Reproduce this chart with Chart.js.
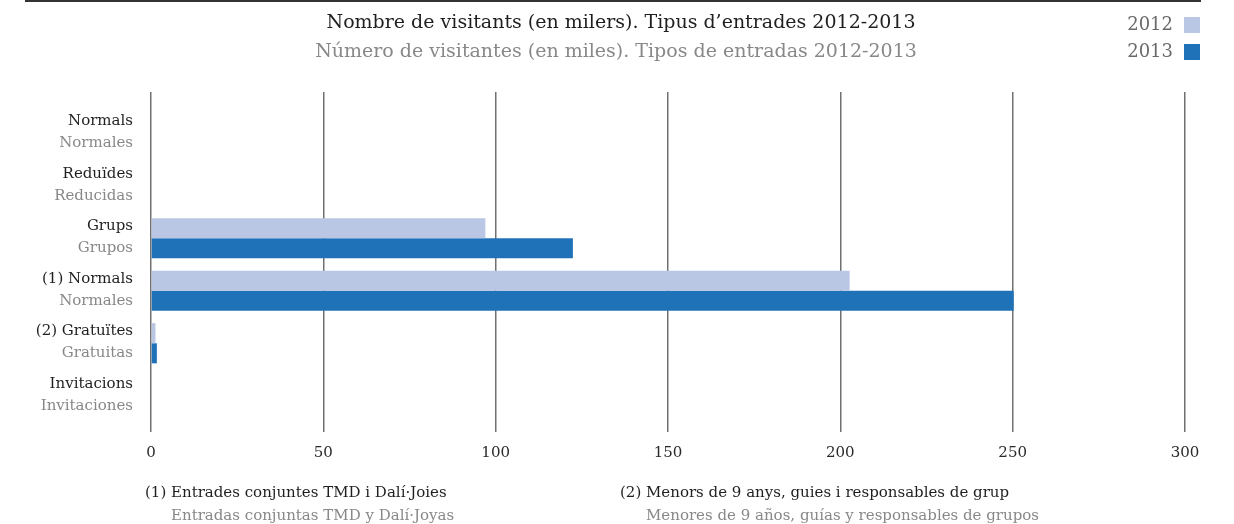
<!DOCTYPE html>
<html>
<head>
<meta charset="utf-8">
<script src="https://cdn.jsdelivr.net/npm/chart.js@4/dist/chart.umd.min.js"></script>
<style>
  html, body { margin: 0; padding: 0; background: #fff; }
</style>
</head>
<body>
<canvas id="chart" width="1234" height="524"></canvas>
<script>
  // data (thousands of visitors)
  const categoriesCa = ['Normals', 'Reduïdes', 'Grups', '(1) Normals', '(2) Gratuïtes', 'Invitacions'];
  const categoriesEs = ['Normales', 'Reducidas', 'Grupos', 'Normales', 'Gratuitas', 'Invitaciones'];
  const seriesNames = ['2012', '2013'];
  const values2012 = [null, null, 97, 202.7, 1.3, null];
  const values2013 = [null, null, 122.4, 250.3, 1.7, null];
  const xTicks = [0, 50, 100, 150, 200, 250, 300];

  const titleCa = 'Nombre de visitants (en milers). Tipus d\u2019entrades 2012-2013';
  const titleEs = 'Número de visitantes (en miles). Tipos de entradas 2012-2013';
  const notesCa = ['(1) Entrades conjuntes TMD i Dalí·Joies', '(2) Menors de 9 anys, guies i responsables de grup'];
  const notesEs = ['Entradas conjuntas TMD y Dalí·Joyas', 'Menores de 9 años, guías y responsables de grupos'];

  const FONT = '"DejaVu Serif", serif';
  const DARK = '#1f1f1f';
  const GREY = '#888888';
  const GRID = '#707070';

  // titles, legend, two-colour category labels, footnotes
  const decor = {
    id: 'decor',
    afterDraw(chart) {
      const ctx = chart.ctx;
      const y = chart.scales.y;
      ctx.save();

      // rule at the very top
      ctx.strokeStyle = '#333';
      ctx.lineWidth = 2;
      ctx.beginPath();
      ctx.moveTo(25, 1);
      ctx.lineTo(1201, 1);
      ctx.stroke();

      // title
      ctx.textAlign = 'center';
      ctx.textBaseline = 'middle';
      ctx.font = '19px ' + FONT;
      ctx.fillStyle = DARK;
      ctx.fillText(titleCa, 621, 23);
      ctx.fillStyle = GREY;
      ctx.fillText(titleEs, 616, 52);

      // legend
      ctx.font = '18px ' + FONT;
      ctx.textAlign = 'right';
      chart.data.datasets.forEach((ds, i) => {
        const cy = 25 + i * 27;
        ctx.fillStyle = '#6a6a6a';
        ctx.fillText(ds.label, 1173, cy);
        ctx.fillStyle = ds.backgroundColor;
        ctx.fillRect(1184, cy - 8, 16, 16);
      });

      // category labels
      ctx.font = '15px ' + FONT;
      ctx.textAlign = 'right';
      categoriesCa.forEach((lab, i) => {
        const cy = y.getPixelForValue(i);
        ctx.fillStyle = DARK;
        ctx.fillText(lab, 133, cy - 12);
        ctx.fillStyle = GREY;
        ctx.fillText(categoriesEs[i], 133, cy + 10);
      });

      // footnotes
      ctx.textAlign = 'left';
      const noteX = [145, 620];
      notesCa.forEach((n, i) => {
        const indent = ctx.measureText(n.slice(0, 4)).width;
        ctx.fillStyle = DARK;
        ctx.fillText(n, noteX[i], 493);
        ctx.fillStyle = GREY;
        ctx.fillText(notesEs[i], noteX[i] + indent, 516);
      });

      ctx.restore();
    }
  };

  const xTickOpts = (showLabels, len) => ({
    type: 'linear',
    axis: 'x',
    min: xTicks[0],
    max: xTicks[xTicks.length - 1],
    afterBuildTicks: (s) => { s.ticks = xTicks.map(v => ({ value: v })); },
    border: { display: false },
    ticks: {
      display: showLabels,
      color: '#2a2a2a',
      padding: 12,
      font: { family: FONT, size: 15 }
    },
    grid: {
      color: GRID,
      lineWidth: 1.5,
      tickLength: len,
      tickColor: GRID,
      drawOnChartArea: showLabels
    }
  });

  new Chart(document.getElementById('chart'), {
    type: 'bar',
    data: {
      labels: categoriesCa,
      datasets: [
        { label: seriesNames[0], data: values2012, backgroundColor: '#b9c6e4' },
        { label: seriesNames[1], data: values2013, backgroundColor: '#1f72b8' }
      ]
    },
    options: {
      indexAxis: 'y',
      responsive: false,
      animation: false,
      devicePixelRatio: 1,
      categoryPercentage: 0.765,
      barPercentage: 1,
      layout: { padding: { top: 92, bottom: 50, left: 0, right: 49 } },
      plugins: {
        legend: { display: false },
        title: { display: false },
        tooltip: { enabled: false }
      },
      scales: {
        x: Object.assign(xTickOpts(true, 10), { position: 'bottom' }),
        x2: Object.assign(xTickOpts(false, 15), { position: 'top' }),
        y: {
          type: 'category',
          afterFit: (s) => { s.width = 151; },
          border: { display: false },
          grid: { display: false },
          ticks: { display: false }
        }
      }
    },
    plugins: [decor]
  });
</script>
</body>
</html>
